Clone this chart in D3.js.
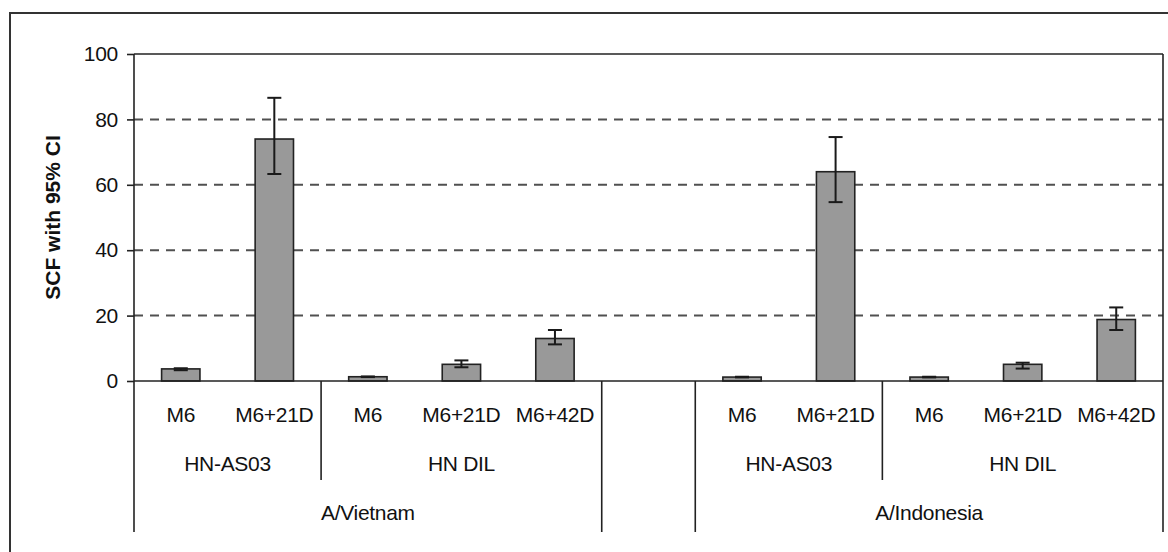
<!DOCTYPE html>
<html>
<head>
<meta charset="utf-8">
<script src="https://cdn.jsdelivr.net/npm/d3@7"></script>
<style>
  html, body { margin: 0; padding: 0; background: #fff; }
  svg { display: block; font-family: "Liberation Sans", Arial, sans-serif; }
</style>
</head>
<body>
<svg id="chart" width="1168" height="552"></svg>
<script>
// ---- data ----
const strains    = ["A/Vietnam", "A/Indonesia"];
const regimens   = ["HN-AS03", "HN-AS03", "HN DIL", "HN DIL", "HN DIL",
                    "HN-AS03", "HN-AS03", "HN DIL", "HN DIL", "HN DIL"];
const strainOf   = ["A/Vietnam", "A/Vietnam", "A/Vietnam", "A/Vietnam", "A/Vietnam",
                    "A/Indonesia", "A/Indonesia", "A/Indonesia", "A/Indonesia", "A/Indonesia"];
const timepoints = ["M6", "M6+21D", "M6", "M6+21D", "M6+42D",
                    "M6", "M6+21D", "M6", "M6+21D", "M6+42D"];
const scf        = [3.7, 74.0, 1.3, 5.1, 13.0, 1.2, 64.0, 1.2, 5.1, 18.8];
const ciLow      = [3.3, 63.3, 1.2, 4.2, 11.2, 1.1, 54.7, 1.1, 3.8, 15.6];
const ciHigh     = [3.9, 86.6, 1.4, 6.3, 15.6, 1.3, 74.6, 1.3, 5.6, 22.5];
const yTicks     = [0, 20, 40, 60, 80, 100];
const yTitle     = "SCF with 95% CI";

// ---- layout ----
const svg = d3.select("#chart");
const plot = { left: 134, right: 1163, top: 54, bottom: 381 };
const rowY = { time: 422, regimen: 471, strain: 520 };
const sepEnd = { inner: 480, outer: 532 };
const ink = "#111";
const fs = 21;

// slot keys: 5 bars, a gap, 5 bars
const slotKeys = [];
timepoints.forEach((t, i) => {
  if (i === 5) slotKeys.push("gap");
  slotKeys.push("b" + i);
});
const x = d3.scaleBand().domain(slotKeys).range([plot.left, plot.right]).padding(0);
const y = d3.scaleLinear().domain([0, 100]).range([plot.bottom, plot.top]);
const bw = x.bandwidth() * 0.41;
const cx = i => x("b" + i) + x.bandwidth() / 2;

// outer frame
svg.append("rect").attr("x", 10).attr("y", 13).attr("width", 1200).attr("height", 600)
  .attr("fill", "none").attr("stroke", "#333").attr("stroke-width", 2);

// dashed gridlines
svg.append("g").selectAll("line").data(yTicks.filter(d => d > 0 && d < 100)).join("line")
  .attr("x1", plot.left).attr("x2", plot.right)
  .attr("y1", d => y(d)).attr("y2", d => y(d))
  .attr("stroke", "#505050").attr("stroke-width", 2).attr("stroke-dasharray", "9,7");

// top and right plot border
svg.append("line").attr("x1", plot.left).attr("x2", plot.right)
  .attr("y1", y(100)).attr("y2", y(100)).attr("stroke", "#222").attr("stroke-width", 1.6);
svg.append("line").attr("x1", plot.right).attr("x2", plot.right)
  .attr("y1", y(100)).attr("y2", sepEnd.outer).attr("stroke", "#222").attr("stroke-width", 1.6);

// y axis
const yAxis = d3.axisLeft(y).tickValues(yTicks).tickSize(7).tickPadding(9).tickFormat(d3.format("d"));
const ga = svg.append("g").attr("transform", `translate(${plot.left},0)`).call(yAxis);
ga.select(".domain").remove();
ga.selectAll(".tick line").attr("stroke", "#222").attr("stroke-width", 1.6);
ga.selectAll(".tick text").attr("fill", ink).style("font-size", fs + "px")
  .style("letter-spacing", "-0.3px")
  .style("font-family", "'Liberation Sans', Arial, sans-serif");
svg.append("line").attr("x1", plot.left).attr("x2", plot.left)
  .attr("y1", y(100)).attr("y2", sepEnd.outer).attr("stroke", "#222").attr("stroke-width", 1.6);

// y title
svg.append("text").attr("transform", `translate(60,${(plot.top + plot.bottom) / 2}) rotate(-90)`)
  .attr("text-anchor", "middle").attr("font-weight", "bold").attr("font-size", 21)
  .attr("fill", ink).text(yTitle);

// bars
svg.append("g").selectAll("rect").data(scf).join("rect")
  .attr("x", (d, i) => cx(i) - bw / 2).attr("width", bw)
  .attr("y", d => y(d)).attr("height", d => y(0) - y(d))
  .attr("fill", "#999999").attr("stroke", "#222").attr("stroke-width", 1.6);

// error bars
const cap = 14;
const eg = svg.append("g").attr("stroke", "#1a1a1a").attr("stroke-width", 2);
scf.forEach((d, i) => {
  eg.append("line").attr("x1", cx(i)).attr("x2", cx(i)).attr("y1", y(ciLow[i])).attr("y2", y(ciHigh[i]));
  eg.append("line").attr("x1", cx(i) - cap / 2).attr("x2", cx(i) + cap / 2).attr("y1", y(ciLow[i])).attr("y2", y(ciLow[i]));
  eg.append("line").attr("x1", cx(i) - cap / 2).attr("x2", cx(i) + cap / 2).attr("y1", y(ciHigh[i])).attr("y2", y(ciHigh[i]));
});

// baseline
svg.append("line").attr("x1", plot.left).attr("x2", plot.right)
  .attr("y1", y(0)).attr("y2", y(0)).attr("stroke", "#222").attr("stroke-width", 1.6);

// category labels: timepoints
const lab = svg.append("g").attr("fill", ink).attr("font-size", fs)
  .attr("letter-spacing", "-0.3").attr("text-anchor", "middle");
timepoints.forEach((t, i) => {
  lab.append("text").attr("x", cx(i)).attr("y", rowY.time).text(t);
});

// regimen groups (consecutive runs within a strain)
const regGroups = [];
regimens.forEach((r, i) => {
  const last = regGroups[regGroups.length - 1];
  if (last && last.name === r && last.strain === strainOf[i]) last.end = i;
  else regGroups.push({ name: r, strain: strainOf[i], start: i, end: i });
});
const seg = g => [x("b" + g.start), x("b" + g.end) + x.bandwidth()];
regGroups.forEach(g => {
  const [a, b] = seg(g);
  lab.append("text").attr("x", (a + b) / 2).attr("y", rowY.regimen).text(g.name);
});

// strain groups
const strainGroups = strains.map(s => {
  const idx = strainOf.map((v, i) => v === s ? i : -1).filter(i => i >= 0);
  return { name: s, start: d3.min(idx), end: d3.max(idx) };
});
strainGroups.forEach(g => {
  const [a, b] = seg(g);
  lab.append("text").attr("x", (a + b) / 2).attr("y", rowY.strain).text(g.name);
});

// separators
const sep = svg.append("g").attr("stroke", "#222").attr("stroke-width", 1.6);
regGroups.forEach((g, k) => {
  const next = regGroups[k + 1];
  if (next && next.strain === g.strain) {
    const xx = x("b" + next.start);
    sep.append("line").attr("x1", xx).attr("x2", xx).attr("y1", y(0)).attr("y2", sepEnd.inner);
  }
});
strainGroups.forEach(g => {
  const [a, b] = seg(g);
  [a, b].forEach(xx => {
    if (Math.abs(xx - plot.left) > 1 && Math.abs(xx - plot.right) > 1)
      sep.append("line").attr("x1", xx).attr("x2", xx).attr("y1", y(0)).attr("y2", sepEnd.outer);
  });
});
</script>
</body>
</html>
